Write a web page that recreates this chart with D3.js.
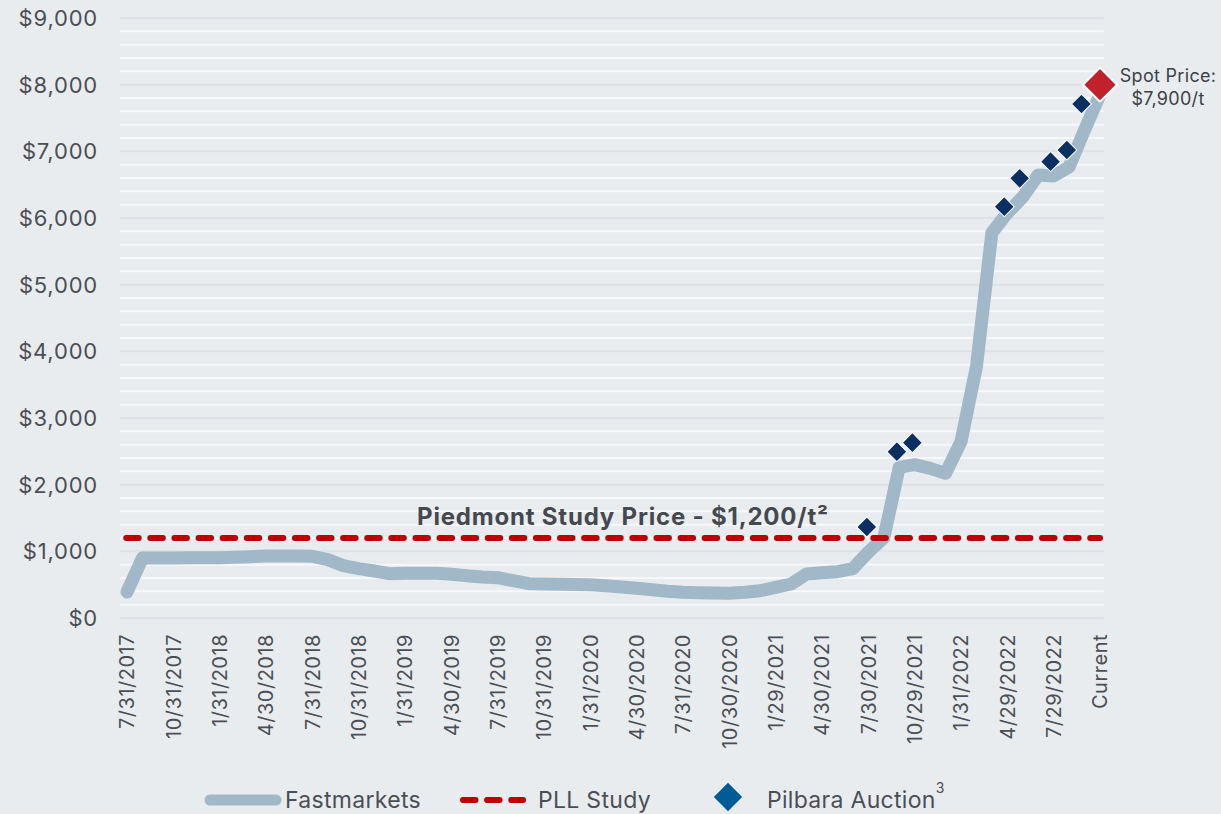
<!DOCTYPE html>
<html>
<head>
<meta charset="utf-8">
<script src="https://cdn.jsdelivr.net/npm/d3@7"></script>
<style>
  html, body { margin: 0; padding: 0; background: #e9ecef; }
  svg { display: block; font-family: Inter, "Open Sans", sans-serif; }
</style>
</head>
<body>
<svg id="chart" width="1221" height="814"></svg>
<script>
// ---- DATA ----
const tickLabels = ["7/31/2017","10/31/2017","1/31/2018","4/30/2018","7/31/2018","10/31/2018",
  "1/31/2019","4/30/2019","7/31/2019","10/31/2019","1/31/2020","4/30/2020","7/31/2020",
  "10/30/2020","1/29/2021","4/30/2021","7/30/2021","10/29/2021","1/31/2022","4/29/2022",
  "7/29/2022","Current"];
// monthly Fastmarkets price, Jul 2017 .. Current (64 points)
const fastmarkets = [390,900,900,900,905,905,905,910,920,930,930,930,
  925,875,785,740,705,665,670,670,670,655,635,615,
  605,560,515,510,505,502,500,485,465,445,425,400,
  385,380,375,370,385,410,460,510,660,680,695,740,
  990,1200,2260,2300,2245,2170,2645,3770,5780,6075,6315,6645,
  6630,6765,7320,7850];
const pllStudy = 1200;
// Pilbara auctions: position in months from Jul 2017, price
const auctionMonth = [47.9, 49.85, 50.85, 56.8, 57.8, 59.8, 60.85, 61.8];
const auctionPrice = [1365, 2495, 2630, 6170, 6595, 6845, 7020, 7710];
const spotMonth = 63;
const spotPrice = 8000;
const yTicks = [0,1000,2000,3000,4000,5000,6000,7000,8000,9000];

// ---- SCALES ----
const svg = d3.select("#chart");
const x = d3.scaleLinear().domain([0, 63]).range([127, 1100]);
const y = d3.scaleLinear().domain([0, 9000]).range([618, 18]);
const gx0 = x(-0.45), gx1 = x(63.25);

svg.append("rect").attr("width", 1221).attr("height", 814).attr("fill", "#e9ecef");

// minor gridlines every 200
const minor = d3.range(200, 9000, 200).filter(v => v % 1000 !== 0);
svg.append("g").selectAll("line").data(minor).join("line")
  .attr("x1", gx0).attr("x2", gx1)
  .attr("y1", d => y(d)).attr("y2", d => y(d))
  .attr("stroke", "#f7f8f9").attr("stroke-width", 2);
svg.append("g").selectAll("line").data(yTicks).join("line")
  .attr("x1", gx0).attr("x2", gx1)
  .attr("y1", d => y(d)).attr("y2", d => y(d))
  .attr("stroke", "#dee1e5").attr("stroke-width", 2);

// y axis labels
const fmt = d3.format("$,");
svg.append("g").selectAll("text").data(yTicks).join("text")
  .attr("x", 98).attr("y", d => y(d)).attr("dy", "0.36em")
  .attr("text-anchor", "end").attr("font-size", 22).attr("letter-spacing", 0.8)
  .attr("fill", "#4b4f55")
  .text(d => fmt(d));

// x axis labels
svg.append("g").selectAll("text").data(tickLabels).join("text")
  .attr("transform", (d, i) => `translate(${x(i * 3)},634) rotate(-90)`)
  .attr("dy", "0.36em").attr("text-anchor", "end")
  .attr("font-size", 20).attr("letter-spacing", 0.5).attr("fill", "#4b4f55")
  .text(d => d);

// Fastmarkets line
const line = d3.line().x((d, i) => x(i)).y(d => y(d));
svg.append("path").datum(fastmarkets)
  .attr("d", line).attr("fill", "none")
  .attr("stroke", "#a1b8c9").attr("stroke-width", 13)
  .attr("stroke-linecap", "round").attr("stroke-linejoin", "round");

// PLL study dashed line
svg.append("line")
  .attr("x1", x(-0.05)).attr("x2", x(63))
  .attr("y1", y(pllStudy)).attr("y2", y(pllStudy))
  .attr("stroke", "#c00000").attr("stroke-width", 6)
  .attr("stroke-dasharray", "12.5,11.6").attr("stroke-linecap", "round");

// label
svg.append("text")
  .attr("x", 623).attr("y", y(pllStudy) - 13)
  .attr("text-anchor", "middle").attr("font-size", 24).attr("font-weight", 700)
  .attr("letter-spacing", 0.8).attr("fill", "#45494f")
  .text("Piedmont Study Price - $1,200/t²");

// Pilbara auctions
const sq = d3.symbol().type(d3.symbolSquare);
svg.append("g").selectAll("path").data(auctionMonth).join("path")
  .attr("transform", (d, i) => `translate(${x(d)},${y(auctionPrice[i])}) rotate(45)`)
  .attr("d", sq.size(200)())
  .attr("fill", "#0b2f63").attr("stroke", "#ffffff").attr("stroke-width", 1);

// Spot price
svg.append("path")
  .attr("transform", `translate(${x(spotMonth)},${y(spotPrice)}) rotate(45)`)
  .attr("d", sq.size(580)())
  .attr("fill", "#c1212b").attr("stroke", "#ffffff").attr("stroke-width", 2);
const spot = svg.append("text").attr("text-anchor", "middle")
  .attr("font-size", 18).attr("letter-spacing", 0.3).attr("fill", "#3d4148");
spot.append("tspan").attr("x", 1168).attr("y", 82).text("Spot Price:");
spot.append("tspan").attr("x", 1168).attr("y", 105).text("$7,900/t");

// Legend
const lg = svg.append("g");
const ly = 800;
lg.append("line").attr("x1", 210).attr("x2", 276).attr("y1", ly).attr("y2", ly)
  .attr("stroke", "#a1b8c9").attr("stroke-width", 11).attr("stroke-linecap", "round");
lg.append("text").attr("x", 285).attr("y", 808).attr("font-size", 23).attr("letter-spacing", 0.3)
  .attr("fill", "#4b4f55").text("Fastmarkets");
lg.append("line").attr("x1", 463).attr("x2", 523).attr("y1", ly).attr("y2", ly)
  .attr("stroke", "#c00000").attr("stroke-width", 6)
  .attr("stroke-dasharray", "12.5,11.6").attr("stroke-linecap", "round");
lg.append("text").attr("x", 538).attr("y", 808).attr("font-size", 23).attr("letter-spacing", 0.3)
  .attr("fill", "#4b4f55").text("PLL Study");
lg.append("path").attr("transform", `translate(728,797) rotate(45)`)
  .attr("d", sq.size(400)()).attr("fill", "#005b96");
const pt = lg.append("text").attr("x", 767).attr("y", 808).attr("font-size", 23)
  .attr("letter-spacing", 0.3).attr("fill", "#4b4f55");
pt.append("tspan").text("Pilbara Auction");
pt.append("tspan").attr("font-size", 14).attr("dy", -15).text("3");
</script>
</body>
</html>
